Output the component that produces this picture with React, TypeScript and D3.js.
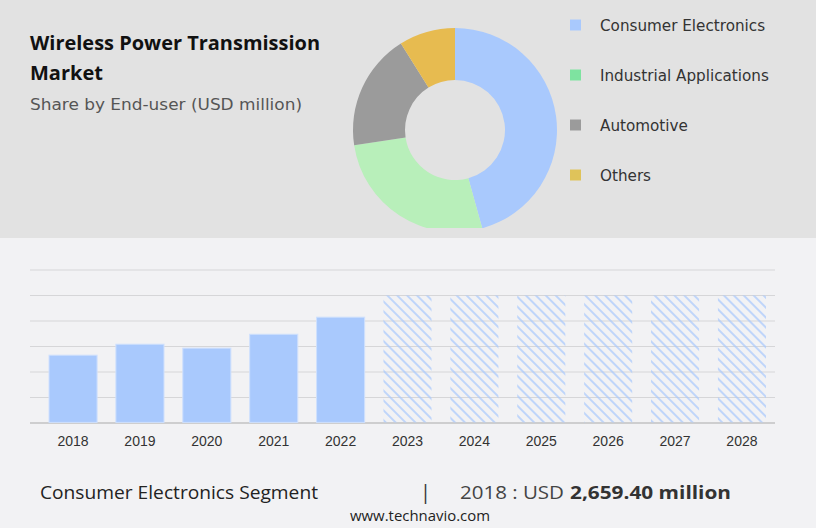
import React from 'react';
import * as d3 from 'd3';

const segments = ['Consumer Electronics', 'Industrial Applications', 'Automotive', 'Others'];
const shares = [45.7, 26.9, 18.5, 8.9];
const pieColors = ['#a9c9fd', '#b8efba', '#9b9b9b', '#e7bb50'];
const legendColors = ['#a9c9fd', '#7ee3a0', '#9b9b9b', '#dfc35a'];

const years = ['2018', '2019', '2020', '2021', '2022', '2023', '2024', '2025', '2026', '2027', '2028'];
const actual = [2659.4, 3090, 2935, 3480, 4150];
const forecastLevel = 5000;
const yTicks = [0, 1000, 2000, 3000, 4000, 5000, 6000];

const W = 816;
const H = 528;

const App: React.FC = () => {
  const pie = d3.pie<number>().sort(null).value((d) => d);
  const arc = d3.arc<d3.PieArcDatum<number>>().innerRadius(50).outerRadius(102);
  const arcs = pie(shares);

  const x = d3.scaleBand<string>().domain(years).range([49, 766]).paddingInner(0.281).paddingOuter(0);
  const y = d3.scaleLinear().domain([0, 6000]).range([423, 270]);

  return (
    <svg width={W} height={H} style={{ position: 'absolute', left: 0, top: 0 }}>
      <defs>
        <pattern id="hatch" patternUnits="userSpaceOnUse" width={7} height={7} patternTransform="rotate(-45)">
          <line x1={2} y1={0} x2={2} y2={7} stroke="#a9c9fd" strokeWidth={1.4} />
        </pattern>
        <clipPath id="topClip">
          <rect x={0} y={0} width={W} height={228} />
        </clipPath>
      </defs>
      <rect x={0} y={0} width={W} height={H} fill="#f2f2f4" />
      <rect x={0} y={0} width={W} height={238} fill="#e2e2e2" />

      <text x={30} y={50} fontFamily="'Open Sans', sans-serif" fontWeight={700} fontSize={20} fill="#111"
        textLength={290} lengthAdjust="spacingAndGlyphs">
        Wireless Power Transmission
      </text>
      <text x={30} y={80} fontFamily="'Open Sans', sans-serif" fontWeight={700} fontSize={20} fill="#111">
        Market
      </text>
      <text x={30} y={110} fontFamily="'DejaVu Sans', sans-serif" fontSize={16.5} fill="#555"
        textLength={272} lengthAdjust="spacingAndGlyphs">
        Share by End-user (USD million)
      </text>

      <g clipPath="url(#topClip)">
        <g transform="translate(455,130)">
          {arcs.map((a, i) => (
            <path key={segments[i]} d={arc(a) || ''} fill={pieColors[i]} />
          ))}
        </g>
      </g>

      {segments.map((s, i) => (
        <g key={s} transform={`translate(0,${25 + i * 50})`}>
          <rect x={570} y={-5.5} width={11} height={11} fill={legendColors[i]} />
          <text x={600} y={5.5} fontFamily="'DejaVu Sans', sans-serif" fontSize={15.2} fill="#333">
            {s}
          </text>
        </g>
      ))}

      {yTicks.map((t) => (
        <line key={t} x1={30} x2={775} y1={y(t)} y2={y(t)} stroke={t === 0 ? '#aaaaaa' : '#d6d6d8'} strokeWidth={1.2} />
      ))}

      {years.map((yr, i) => {
        const v = i < actual.length ? actual[i] : forecastLevel;
        const isActual = i < actual.length;
        return (
          <rect
            key={yr}
            x={x(yr)}
            y={y(v)}
            width={x.bandwidth()}
            height={y(0) - y(v) - 0.6}
            fill={isActual ? '#a9c9fd' : 'url(#hatch)'}
            stroke={isActual ? '#cfe0fd' : 'none'}
            strokeWidth={1}
          />
        );
      })}

      {years.map((yr) => (
        <text key={yr} x={(x(yr) || 0) + x.bandwidth() / 2} y={446} textAnchor="middle"
          fontFamily="'Liberation Sans', Arial, sans-serif" fontSize={14} fill="#333">
          {yr}
        </text>
      ))}

      <text x={40} y={499} fontFamily="'Open Sans', sans-serif" fontSize={18} fill="#222"
        textLength={278} lengthAdjust="spacingAndGlyphs">
        Consumer Electronics Segment
      </text>
      <text x={420} y={499} fontFamily="'Open Sans', sans-serif" fontSize={20} fill="#333">|</text>
      <text x={460} y={499} fontFamily="'Open Sans', sans-serif" fontSize={18} fill="#444"
        textLength={104} lengthAdjust="spacingAndGlyphs">
        2018 : USD
      </text>
      <text x={570} y={499} fontFamily="'Open Sans', sans-serif" fontWeight={700} fontSize={18} fill="#333"
        textLength={161} lengthAdjust="spacingAndGlyphs">
        2,659.40 million
      </text>
      <text x={420} y={521} textAnchor="middle" fontFamily="'Open Sans', sans-serif" fontSize={14} fill="#222"
        textLength={140} lengthAdjust="spacingAndGlyphs">
        www.technavio.com
      </text>
    </svg>
  );
};

export default App;
